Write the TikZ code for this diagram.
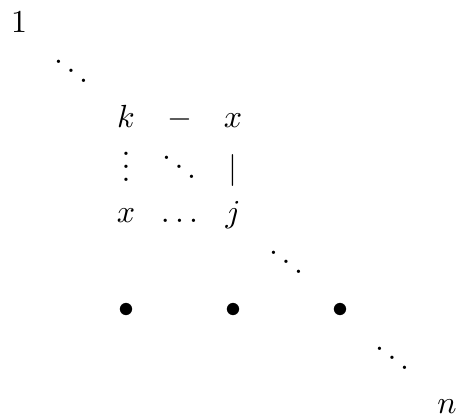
\documentclass[tikz,border=0pt]{standalone}
\begin{document}
\begin{tikzpicture}[x=0.3125pt,y=-0.3125pt,
  cell/.style={inner sep=0pt,anchor=base}]
\useasboundingbox (0,0) rectangle (459,418);
\node[cell] (one) at (19,32) {$1$};
\node[cell] (d1) at (71,85.5) {$\ddots$};
\node[cell] (k) at (126,127) {$k$};
\node[cell] (dash) at (179.5,127) {$-$};
\node[cell] (x1) at (233,127) {$x$};
\node[cell] (vd) at (126,181.5) {$\vdots$};
\node[cell] (d2) at (179,181.5) {$\ddots$};
\node[cell] (bar) at (233,178.5) {$|$};
\node[cell] (x2) at (126,222) {$x$};
\node[cell] (ld) at (179.5,222) {$\ldots$};
\node[cell] (j) at (233,222) {$j$};
\node[cell] (d3) at (286,276.5) {$\ddots$};
\node[cell] (b1) at (126,317) {$\bullet$};
\node[cell] (b2) at (233,317) {$\bullet$};
\node[cell] (b3) at (340,317) {$\bullet$};
\node[cell] (d4) at (392,372.5) {$\ddots$};
\node[cell] (n) at (447,413) {$n$};
\end{tikzpicture}
\end{document}
